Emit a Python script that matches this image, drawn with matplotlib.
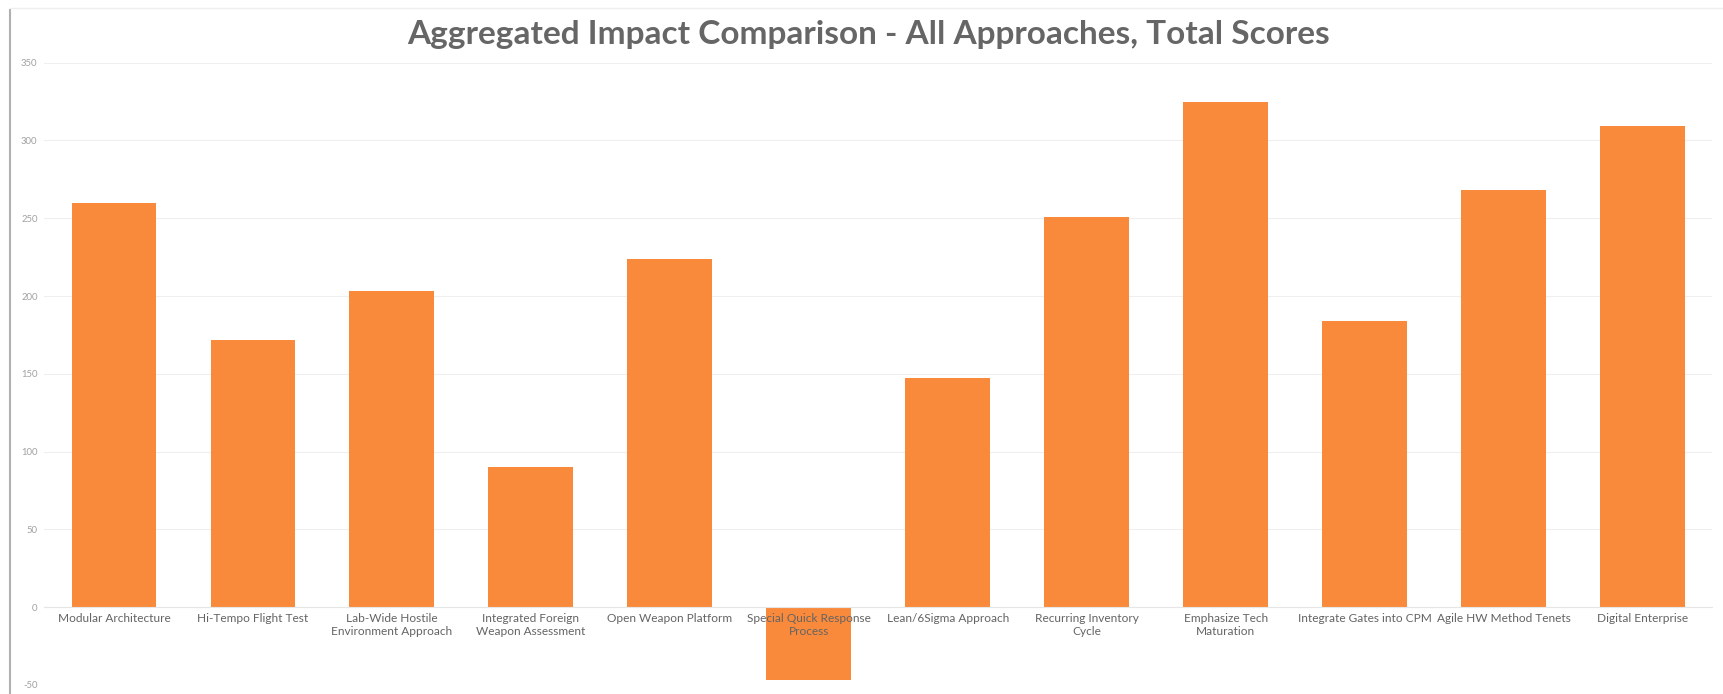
import matplotlib
matplotlib.use("Agg")
import matplotlib.pyplot as plt
from matplotlib.lines import Line2D
from matplotlib.transforms import offset_copy

categories = [
    "Modular Architecture",
    "Hi-Tempo Flight Test",
    "Lab-Wide Hostile\nEnvironment Approach",
    "Integrated Foreign\nWeapon Assessment",
    "Open Weapon Platform",
    "Special Quick Response\nProcess",
    "Lean/6Sigma Approach",
    "Recurring Inventory\nCycle",
    "Emphasize Tech\nMaturation",
    "Integrate Gates into CPM",
    "Agile HW Method Tenets",
    "Digital Enterprise",
]
scores = [260, 172, 203, 90, 224, -47, 147, 251, 325, 184, 268, 309]
y_ticks = [-50, 0, 50, 100, 150, 200, 250, 300, 350]
title = "Aggregated Impact Comparison - All Approaches, Total Scores"

plt.rcParams['font.family'] = ['Lato', 'DejaVu Sans']

fig = plt.figure(figsize=(17.24, 6.94), dpi=100)
ax = fig.add_axes([0.0258, 0.013, 0.9672, 0.8967])

x = list(range(len(categories)))
ax.bar(x, scores, width=0.61, color='#F98A3B', zorder=2)

ax.set_xlim(-0.5, len(categories) - 0.5)
ax.set_ylim(-50, 350)
ax.set_yticks(y_ticks)
ax.set_yticklabels([str(v) for v in y_ticks], fontsize=6.8, color='#a0a0a0')
ax.set_xticks(x)
ax.set_xticklabels([])
ax.tick_params(axis='both', length=0)
ax.tick_params(axis='y', pad=5)

lbl_tr = offset_copy(ax.transData, fig=fig, x=0, y=-4.5, units='points')
for xi, lab in zip(x, categories):
    ax.text(xi, 0, lab, transform=lbl_tr, ha='center', va='top', fontsize=8.6,
            color='#646464', linespacing=1.15, zorder=5)

for s in ['top', 'right', 'left']:
    ax.spines[s].set_visible(False)
ax.spines['bottom'].set_position(('data', 0))
ax.spines['bottom'].set_color('#e6e6e6')
ax.spines['bottom'].set_linewidth(0.8)

ax.yaxis.grid(True, color='#efefef', linewidth=0.8, zorder=0)
ax.set_axisbelow(True)

fig.text(0.504, 0.950, title, ha='center', va='center', fontsize=24,
         fontweight='bold', color='#666666')

# chart frame edges
fig.add_artist(Line2D([0.006, 0.006], [0.0, 0.985], color='#b0b0b0', linewidth=1.5,
                      transform=fig.transFigure))
fig.add_artist(Line2D([0.006, 1.0], [0.988, 0.988], color='#eeeeee', linewidth=1.0,
                      transform=fig.transFigure))

fig.savefig("out.png", dpi=100, facecolor='white')
